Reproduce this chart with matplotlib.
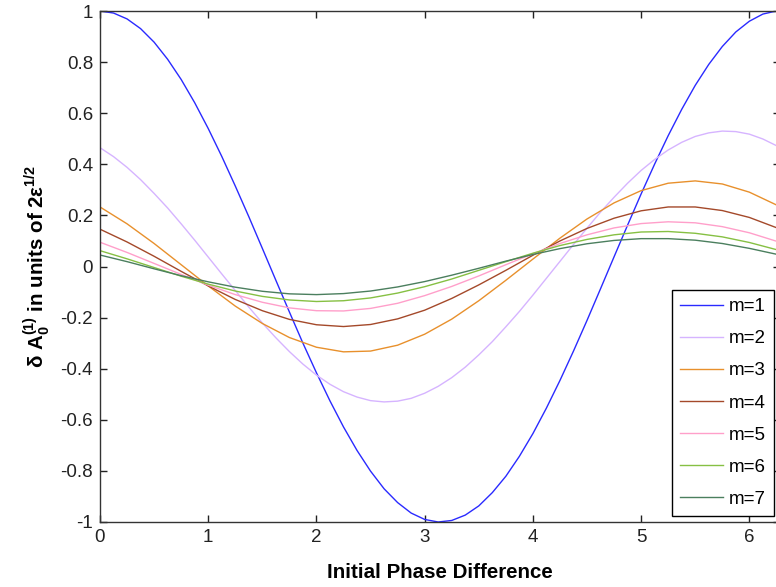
import matplotlib
matplotlib.use("Agg")
import matplotlib.pyplot as plt

plt.rcParams['font.family'] = ['Liberation Sans', 'DejaVu Sans']
plt.rcParams['axes.unicode_minus'] = False
plt.rcParams['mathtext.fontset'] = 'custom'
plt.rcParams['mathtext.rm'] = 'Liberation Sans'
plt.rcParams['mathtext.bf'] = 'Liberation Sans:bold'
plt.rcParams['mathtext.default'] = 'bf'

# fine grid for the two large-amplitude curves
phase_fine = [0.0, 0.125, 0.25, 0.375, 0.5, 0.625, 0.75, 0.875, 1.0, 1.125, 1.25, 1.375,
              1.5, 1.625, 1.75, 1.875, 2.0, 2.125, 2.25, 2.375, 2.5, 2.625, 2.75, 2.875,
              3.0, 3.125, 3.25, 3.375, 3.5, 3.625, 3.75, 3.875, 4.0, 4.125, 4.25, 4.375,
              4.5, 4.625, 4.75, 4.875, 5.0, 5.125, 5.25, 5.375, 5.5, 5.625, 5.75, 5.875,
              6.0, 6.125, 6.25, 6.2832]
# coarser grid for the small-amplitude curves
phase = [0.0, 0.25, 0.5, 0.75, 1.0, 1.25, 1.5, 1.75, 2.0, 2.25, 2.5, 2.75, 3.0,
         3.25, 3.5, 3.75, 4.0, 4.25, 4.5, 4.75, 5.0, 5.25, 5.5, 5.75, 6.0, 6.25, 6.2832]

m1 = [1.0, 0.992, 0.969, 0.931, 0.878, 0.811, 0.732, 0.641, 0.540, 0.431, 0.315, 0.195,
      0.071, -0.054, -0.178, -0.300, -0.416, -0.526, -0.628, -0.720, -0.801, -0.870,
      -0.924, -0.965, -0.990, -1.0, -0.994, -0.973, -0.937, -0.885, -0.821, -0.743,
      -0.654, -0.554, -0.446, -0.331, -0.211, -0.087, 0.038, 0.162, 0.284, 0.401,
      0.512, 0.615, 0.709, 0.791, 0.861, 0.918, 0.960, 0.988, 1.0, 1.0]
m2 = [0.465, 0.430, 0.388, 0.340, 0.286, 0.229, 0.167, 0.103, 0.037, -0.029, -0.094,
      -0.159, -0.221, -0.279, -0.333, -0.382, -0.425, -0.461, -0.490, -0.511, -0.525,
      -0.530, -0.527, -0.516, -0.496, -0.469, -0.435, -0.394, -0.346, -0.294, -0.236,
      -0.176, -0.112, -0.046, 0.020, 0.086, 0.150, 0.213, 0.271, 0.326, 0.376, 0.419,
      0.456, 0.486, 0.509, 0.523, 0.530, 0.528, 0.518, 0.499, 0.473, 0.465]
m3 = [0.233, 0.167, 0.090, 0.007, -0.076, -0.155, -0.223, -0.278, -0.316, -0.334,
      -0.331, -0.308, -0.265, -0.206, -0.134, -0.054, 0.029, 0.111, 0.186, 0.249,
      0.297, 0.326, 0.335, 0.323, 0.291, 0.241, 0.233]
m4 = [0.146, 0.096, 0.040, -0.019, -0.076, -0.129, -0.173, -0.207, -0.228, -0.235,
      -0.227, -0.205, -0.171, -0.125, -0.072, -0.015, 0.044, 0.100, 0.149, 0.189,
      0.218, 0.233, 0.233, 0.219, 0.192, 0.152, 0.146]
m5 = [0.095, 0.055, 0.012, -0.031, -0.073, -0.110, -0.140, -0.162, -0.173, -0.174,
      -0.164, -0.144, -0.114, -0.078, -0.037, 0.007, 0.050, 0.090, 0.124, 0.151,
      0.168, 0.175, 0.171, 0.156, 0.132, 0.099, 0.095]
m6 = [0.062, 0.030, -0.004, -0.038, -0.069, -0.096, -0.117, -0.131, -0.137, -0.134,
      -0.123, -0.104, -0.079, -0.049, -0.015, 0.019, 0.052, 0.082, 0.106, 0.124,
      0.135, 0.137, 0.130, 0.116, 0.094, 0.066, 0.062]
m7 = [0.045, 0.019, -0.009, -0.036, -0.060, -0.081, -0.097, -0.107, -0.110, -0.106,
      -0.096, -0.080, -0.059, -0.034, -0.007, 0.021, 0.047, 0.070, 0.089, 0.102,
      0.109, 0.109, 0.103, 0.090, 0.071, 0.048, 0.045]

series = [(phase_fine, m1), (phase_fine, m2), (phase, m3), (phase, m4),
          (phase, m5), (phase, m6), (phase, m7)]
labels = ["m=1", "m=2", "m=3", "m=4", "m=5", "m=6", "m=7"]
colors = ["#2a2aff", "#d6b4ff", "#e8902c", "#a4492a", "#ff9fca", "#86c043", "#4b7f5e"]

xticks = [0, 1, 2, 3, 4, 5, 6]
xticklabels = ["0", "1", "2", "3", "4", "5", "6"]
yticks = [-1, -0.8, -0.6, -0.4, -0.2, 0, 0.2, 0.4, 0.6, 0.8, 1]
yticklabels = ["-1", "-0.8", "-0.6", "-0.4", "-0.2", "0", "0.2", "0.4", "0.6", "0.8", "1"]

fig = plt.figure(figsize=(7.76, 5.87), dpi=100)
ax = fig.add_axes([100 / 776, 65 / 587, 680 / 776, 511 / 587])

for (xs, ys), lab, c in zip(series, labels, colors):
    ax.plot(xs, ys, color=c, lw=1.0, label=lab)

ax.set_xlim(0, 6.2832)
ax.set_ylim(-1, 1)
ax.set_xticks(xticks)
ax.set_xticklabels(xticklabels)
ax.set_yticks(yticks)
ax.set_yticklabels(yticklabels)
ax.tick_params(direction='in', length=5, width=1, top=True, right=True,
               labelsize=13.5, colors='#222222', pad=5)
for s in ax.spines.values():
    s.set_color('#333333')
    s.set_linewidth(1.0)

ax.set_xlabel("Initial Phase Difference", fontsize=14.8, fontweight='bold', labelpad=12)
ax.set_ylabel(r"δ A$_0^{(1)}$ in units of 2ε$^{1/2}$", fontsize=14.8, fontweight='bold', labelpad=6)

leg = ax.legend(loc='lower right', fontsize=13.5, handlelength=2.3, handletextpad=0.3,
                labelspacing=0.8, borderaxespad=0.3, fancybox=False, framealpha=1,
                edgecolor='black', borderpad=0.45)
leg.get_frame().set_linewidth(1.0)

fig.savefig("out.png", dpi=100)
